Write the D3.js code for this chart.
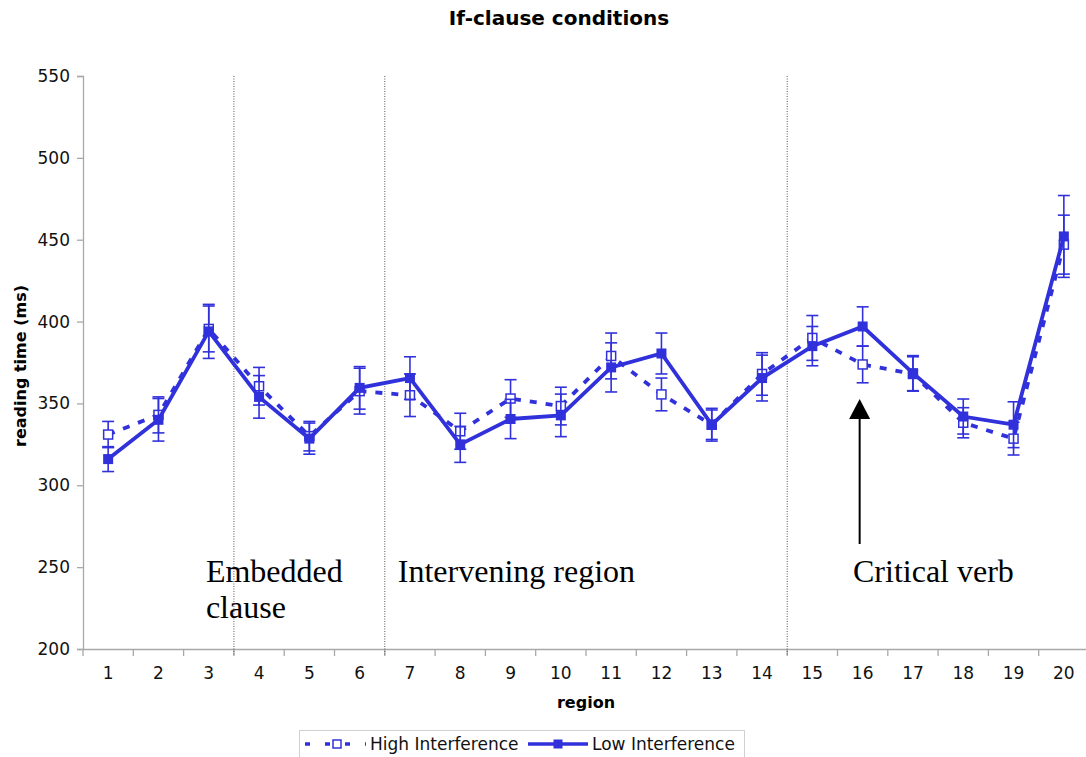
<!DOCTYPE html>
<html>
<head>
<meta charset="utf-8">
<script src="https://cdn.jsdelivr.net/npm/d3@7/dist/d3.min.js"></script>
<style>
  html, body { margin: 0; padding: 0; background: #fff; }
  svg { display: block; }
</style>
</head>
<body>
<svg id="chart" width="1086" height="757"></svg>
<script>
// ---- data ----
const regions = [1,2,3,4,5,6,7,8,9,10,11,12,13,14,15,16,17,18,19,20];
const highInterference = [331, 343, 395.5, 360.5, 330, 357.5, 355, 333, 353, 348.4, 379, 355.5, 337, 368, 390, 373.8, 368, 338.2, 328.5, 447];
const highErr = [8, 11, 14, 11.5, 9, 14, 13, 11, 11.5, 11.5, 14, 10, 9, 13, 13.7, 11.2, 10.5, 9.2, 10, 18];
const lowInterference = [316, 340, 394, 354, 328.5, 359.5, 365.5, 325, 340.5, 342.7, 372, 380.5, 337, 365.5, 385, 397, 368.5, 342, 337, 452];
const lowErr = [7.6, 13, 16.5, 13, 9.5, 13, 13, 11, 12, 13, 15, 12.5, 10, 14, 12, 12, 10.7, 10.7, 14, 25];
const yTicks = [200, 250, 300, 350, 400, 450, 500, 550];
const separators = [3, 6, 14]; // dotted lines after these regions
const annotations = [
  { region: 4, offset: -28, lines: ["Embedded", "clause"] },
  { region: 7, offset: 13, lines: ["Intervening region"] },
  { region: 16, offset: 15.5, lines: ["Critical verb"] }
];
const arrowRegion = 16;
const seriesNames = ["High Interference", "Low Interference"];

const blue = "#3131dc";
const svg = d3.select("#chart");

const x = d3.scaleBand().domain(regions).range([83, 1089]).paddingInner(0).paddingOuter(0);
const y = d3.scaleLinear().domain([200, 550]).range([649, 76]);
const cx = d => x(d) + x.bandwidth() / 2;

// title
svg.append("text").attr("x", 559).attr("y", 25).attr("text-anchor", "middle")
  .attr("font-family", "DejaVu Sans, Verdana, sans-serif").attr("font-weight", "bold")
  .attr("font-size", 20).text("If-clause conditions");

// y axis
const yAxis = d3.axisLeft(y).tickValues(yTicks).tickSize(6).tickPadding(7);
const gy = svg.append("g").attr("transform", "translate(83,0)").call(yAxis);
gy.select(".domain").attr("stroke", "#a8a8a8").attr("stroke-width", 1.3);
gy.selectAll(".tick line").attr("stroke", "#a8a8a8").attr("stroke-width", 1.3);
gy.selectAll(".tick text").attr("font-family", "DejaVu Sans, Verdana, sans-serif")
  .attr("font-size", 17).attr("fill", "#111");

// x axis
const xAxis = d3.axisBottom(x).tickSize(0).tickPadding(18);
const gx = svg.append("g").attr("transform", "translate(0,649)").call(xAxis);
gx.select(".domain").attr("stroke", "#a8a8a8").attr("stroke-width", 1.3);
gx.selectAll(".tick text").attr("font-family", "DejaVu Sans, Verdana, sans-serif")
  .attr("font-size", 17).attr("fill", "#111");
// boundary ticks between categories
const bounds = regions.map(r => x(r)).concat([x(regions[regions.length-1]) + x.bandwidth()]);
svg.append("g").selectAll("line").data(bounds).join("line")
  .attr("x1", d => d).attr("x2", d => d).attr("y1", 649).attr("y2", 656)
  .attr("stroke", "#a8a8a8").attr("stroke-width", 1.3);

// axis titles
svg.append("text").attr("x", 586).attr("y", 708).attr("text-anchor", "middle")
  .attr("font-family", "DejaVu Sans, Verdana, sans-serif").attr("font-weight", "bold")
  .attr("font-size", 16).text("region");
svg.append("text").attr("transform", "translate(26,366) rotate(-90)").attr("text-anchor", "middle")
  .attr("font-family", "DejaVu Sans, Verdana, sans-serif").attr("font-weight", "bold")
  .attr("font-size", 16).text("reading time (ms)");

// dotted separators
svg.append("g").selectAll("line").data(separators).join("line")
  .attr("x1", d => x(d) + x.bandwidth()).attr("x2", d => x(d) + x.bandwidth())
  .attr("y1", 76).attr("y2", 656)
  .attr("stroke", "#555").attr("stroke-width", 1).attr("stroke-dasharray", "1,1.5");

// annotations
annotations.forEach(a => {
  const t = svg.append("text").attr("y", 582)
    .attr("font-family", "Liberation Serif, Times New Roman, serif").attr("font-size", 32).attr("fill", "#000");
  a.lines.forEach((l, i) => t.append("tspan").attr("x", x(a.region) + a.offset)
    .attr("dy", i === 0 ? 0 : 36).text(l));
});

// arrow
const ax = cx(arrowRegion) - 3;
svg.append("line").attr("x1", ax).attr("x2", ax).attr("y1", 544).attr("y2", 416)
  .attr("stroke", "#000").attr("stroke-width", 2);
svg.append("path").attr("d", `M${ax},399 L${ax-10.5},419 L${ax+10.5},419 Z`).attr("fill", "#000");

// series
function drawSeries(vals, errs, dashed, filled) {
  const g = svg.append("g");
  const line = d3.line().x((d, i) => cx(regions[i])).y(d => y(d));
  g.append("path").datum(vals).attr("d", line).attr("fill", "none")
    .attr("stroke", blue).attr("stroke-width", 3.8)
    .attr("stroke-dasharray", dashed ? "7,9" : null);
  const eb = g.append("g").selectAll("g").data(vals).join("g");
  eb.append("line").attr("x1", (d, i) => cx(regions[i])).attr("x2", (d, i) => cx(regions[i]))
    .attr("y1", (d, i) => y(d + errs[i])).attr("y2", (d, i) => y(d - errs[i]))
    .attr("stroke", blue).attr("stroke-width", 1.6);
  [1, -1].forEach(s => {
    eb.append("line").attr("x1", (d, i) => cx(regions[i]) - 6).attr("x2", (d, i) => cx(regions[i]) + 6)
      .attr("y1", (d, i) => y(d + s * errs[i])).attr("y2", (d, i) => y(d + s * errs[i]))
      .attr("stroke", blue).attr("stroke-width", 1.6);
  });
  g.append("g").selectAll("rect").data(vals).join("rect")
    .attr("x", (d, i) => cx(regions[i]) - (filled ? 5 : 4.5)).attr("y", d => y(d) - (filled ? 5 : 4.5))
    .attr("width", filled ? 10 : 9).attr("height", filled ? 10 : 9)
    .attr("fill", filled ? blue : "#fff").attr("stroke", blue).attr("stroke-width", filled ? 0 : 1.5);
}
drawSeries(highInterference, highErr, true, false);
drawSeries(lowInterference, lowErr, false, true);

// legend
const lg = svg.append("g");
lg.append("rect").attr("x", 299.5).attr("y", 730.5).attr("width", 445).attr("height", 40)
  .attr("fill", "#fff").attr("stroke", "#d0d0d0").attr("stroke-width", 1);
const ly = 744;
lg.append("line").attr("x1", 305).attr("x2", 366).attr("y1", ly).attr("y2", ly)
  .attr("stroke", blue).attr("stroke-width", 3.5).attr("stroke-dasharray", "5,15");
lg.append("rect").attr("x", 333).attr("y", ly - 4).attr("width", 8).attr("height", 8)
  .attr("fill", "#fff").attr("stroke", blue).attr("stroke-width", 1.5);
lg.append("text").attr("x", 370).attr("y", ly + 6).attr("font-family", "DejaVu Sans, Verdana, sans-serif")
  .attr("font-size", 17).attr("fill", "#111").text(seriesNames[0]);
lg.append("line").attr("x1", 528).attr("x2", 588).attr("y1", ly).attr("y2", ly)
  .attr("stroke", blue).attr("stroke-width", 3.5);
lg.append("rect").attr("x", 553.5).attr("y", ly - 4.5).attr("width", 9).attr("height", 9).attr("fill", blue);
lg.append("text").attr("x", 592).attr("y", ly + 6).attr("font-family", "DejaVu Sans, Verdana, sans-serif")
  .attr("font-size", 17).attr("fill", "#111").text(seriesNames[1]);
</script>
</body>
</html>
